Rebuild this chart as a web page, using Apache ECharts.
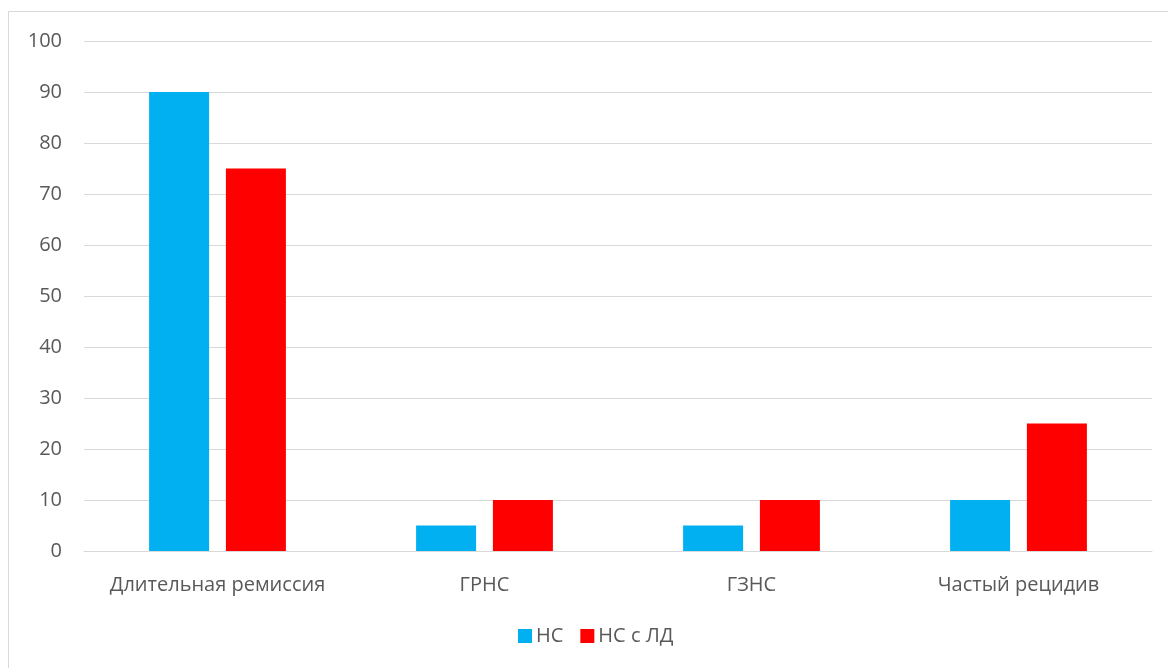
<!DOCTYPE html>
<html>
<head>
<meta charset="utf-8">
<script src="https://cdn.jsdelivr.net/npm/echarts@6/dist/echarts.min.js"></script>
<style>
  html, body { margin: 0; padding: 0; background: #ffffff; }
  #chart { width: 1168px; height: 668px; }
</style>
</head>
<body>
<div id="chart"></div>
<script>
// Outcome categories and percentages per patient group
const categories = ['Длительная ремиссия', 'ГРНС', 'ГЗНС', 'Частый рецидив'];
const seriesNames = ['НС', 'НС с ЛД'];
const valuesNS = [90, 5, 5, 10];
const valuesNSLD = [75, 10, 10, 25];
const colors = ['#00b0f0', '#ff0000'];

const textColor = '#595959';
const fontFamily = '"Open Sans", "Noto Sans", sans-serif';

const chart = echarts.init(document.getElementById('chart'), null, { renderer: 'canvas' });

chart.setOption({
  animation: false,
  backgroundColor: '#ffffff',
  graphic: [{
    type: 'rect',
    shape: { x: 8.5, y: 11.5, width: 1200, height: 700 },
    style: { fill: 'none', stroke: '#d9d9d9', lineWidth: 1 },
    silent: true
  }],
  grid: { left: 84, right: 16, top: 41, bottom: 117, containLabel: false },
  legend: {
    data: seriesNames,
    bottom: 17,
    left: 513,
    itemWidth: 14,
    itemHeight: 14,
    itemGap: 17,
    icon: 'rect',
    textStyle: { color: textColor, fontSize: 20, fontFamily: fontFamily, padding: [0, 0, 0, -1] }
  },
  xAxis: {
    type: 'category',
    data: categories,
    axisLine: { lineStyle: { color: '#d9d9d9', width: 1 } },
    axisTick: { show: false },
    axisLabel: { color: textColor, fontSize: 20, fontFamily: fontFamily, margin: 24, interval: 0 }
  },
  yAxis: {
    type: 'value',
    min: 0,
    max: 100,
    interval: 10,
    axisLine: { show: false },
    axisTick: { show: false },
    splitLine: { lineStyle: { color: '#d9d9d9', width: 1 } },
    axisLabel: { color: textColor, fontSize: 20, fontFamily: fontFamily, margin: 22 }
  },
  series: [
    {
      name: seriesNames[0],
      type: 'bar',
      data: valuesNS,
      barWidth: 60,
      barGap: '28%',
      itemStyle: { color: colors[0] }
    },
    {
      name: seriesNames[1],
      type: 'bar',
      data: valuesNSLD,
      barWidth: 60,
      barGap: '28%',
      itemStyle: { color: colors[1] }
    }
  ]
});
</script>
</body>
</html>
